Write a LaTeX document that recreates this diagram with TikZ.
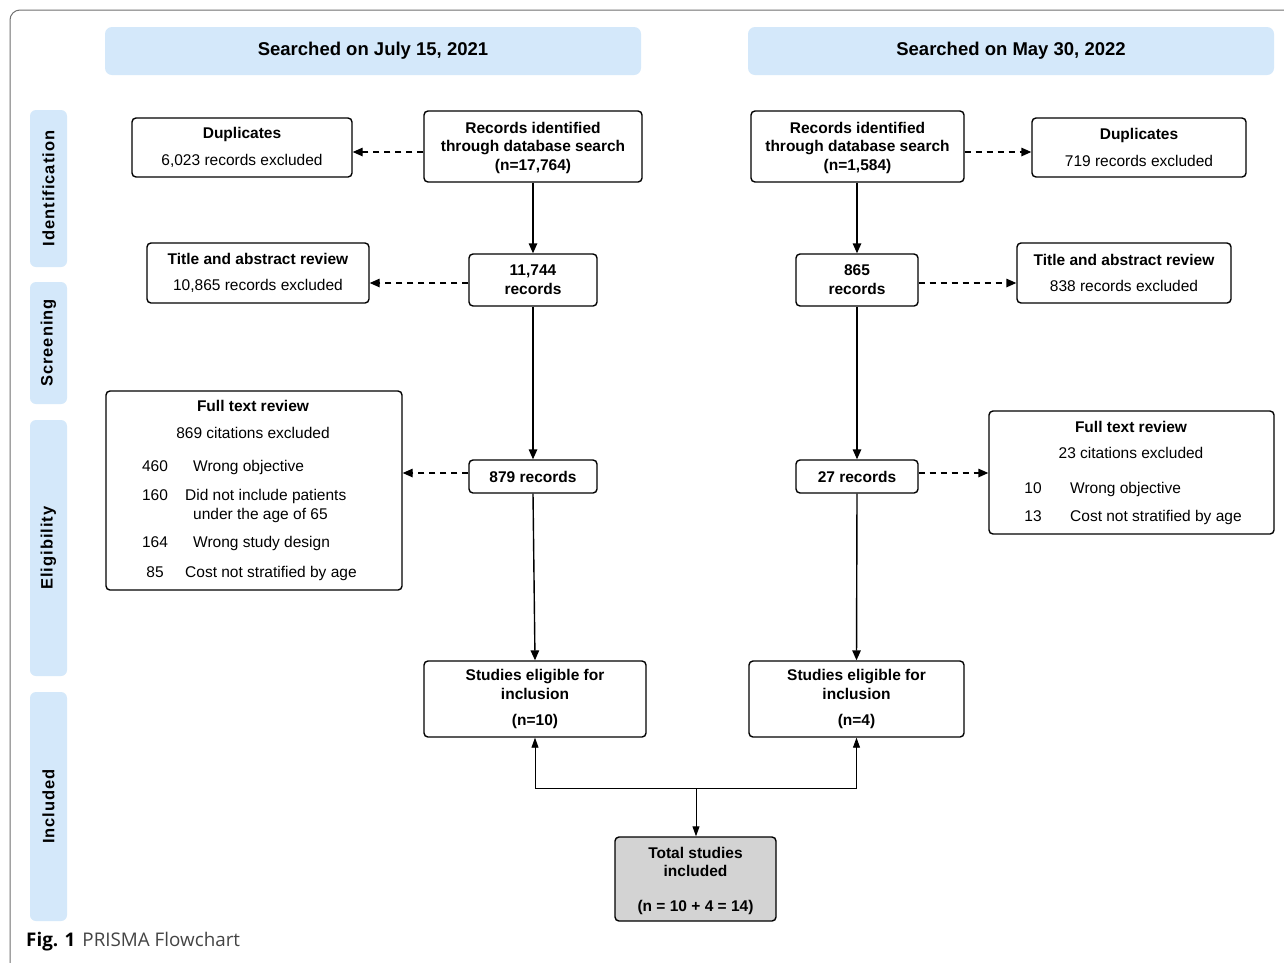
\documentclass[tikz,border=0pt]{standalone}
\usepackage{fontspec}
\setmainfont{Liberation Sans}
\newfontfamily\capfont{Open Sans}
\newfontfamily\sidefont[LetterSpace=6]{Liberation Sans}
\usetikzlibrary{arrows.meta,calc}
\definecolor{hdr}{HTML}{D4E8FA}
\definecolor{totfill}{HTML}{D3D3D3}
\definecolor{framecol}{HTML}{707070}
\definecolor{capgray}{HTML}{444444}
\begin{document}
\begin{tikzpicture}[x=1pt,y=-1pt,
 box/.style={draw, line width=1.4pt, rounded corners=4pt, fill=white, align=center, inner sep=0pt, font=\bfseries\fontsize{15.5}{18.8}\selectfont},
 txt/.style={inner sep=0pt, yshift=-4pt, font=\fontsize{15.5}{18.5}\selectfont},
 hdrbox/.style={fill=hdr, rounded corners=7pt, inner sep=0pt, font=\bfseries\fontsize{18.5}{22}\selectfont},
 sidebox/.style={fill=hdr, rounded corners=6pt, rotate=90, inner sep=0pt, minimum height=37pt, font=\sidefont\bfseries\fontsize{16.5}{19}\selectfont},
 arr/.style={-{Triangle[length=10pt,width=8.5pt]}, line width=1.4pt},
 dsh/.style={arr, dash pattern=on 6pt off 5pt},
 tarr/.style={-{Triangle[length=10pt,width=7pt]}, line width=0.9pt},
]
\useasboundingbox (0,0) rectangle (1284,962);
\fill[white] (0,0) rectangle (1284,962);
% outer frame
\draw[framecol, line width=1pt, rounded corners=10pt] (10,1000) -- (10,10) -- (1320,10);

% headers
\node[hdrbox, minimum width=536pt, minimum height=48pt] (hL) at (373,51) {Searched on July 15, 2021};
\node[hdrbox, minimum width=526pt, minimum height=48pt] (hR) at (1011,51) {Searched on May 30, 2022};

% side labels
\node[sidebox, minimum width=157pt] (sI) at (48.5,188.5) {Identification};
\node[sidebox, minimum width=122pt] (sS) at (48.5,343) {Screening};
\node[sidebox, minimum width=256pt] (sE) at (48.5,548) {Eligibility};
\node[sidebox, minimum width=229pt] (sN) at (48.5,806.5) {Included};

% left column
\node[box, minimum width=218pt, minimum height=71pt] (recL) at (533,146.5) {\rule{0pt}{14pt}Records identified\\through database search\\(n=17,764)};
\node[box, minimum width=220pt, minimum height=59pt] (dupL) at (242,147.5) {Duplicates\\[8.5pt]{\mdseries 6,023 records excluded}};
\node[box, minimum width=128pt, minimum height=52pt] (n11744) at (533,280) {11,744\\records};
\node[box, minimum width=222pt, minimum height=60pt] (taL) at (258,273) {Title and abstract review\\[7.5pt]{\mdseries 10,865 records excluded}};
\node[box, minimum width=296pt, minimum height=199pt] (ftrL) at (254,490.5) {};
\node[box, minimum width=128pt, minimum height=33pt] (n879) at (533,476.5) {879 records};
\node[box, minimum width=222pt, minimum height=76pt] (stL) at (535,699) {Studies eligible for\\inclusion\\[7pt](n=10)};

% left full text review content
\node[txt, font=\bfseries\fontsize{15.5}{18.5}\selectfont, anchor=mid] (ftrLt) at (253,405) {Full text review};
\node[txt, anchor=mid] (ftrLs) at (253,432) {869 citations excluded};
\node[txt, anchor=mid] (l1n) at (155,465) {460};
\node[txt, anchor=mid west] (l1t) at (193,465) {Wrong objective};
\node[txt, anchor=mid] (l2n) at (155,494) {160};
\node[txt, anchor=mid west] (l2t) at (185,494) {Did not include patients};
\node[txt, anchor=mid west] (l2u) at (193,513) {under the age of 65};
\node[txt, anchor=mid] (l3n) at (155,541) {164};
\node[txt, anchor=mid west] (l3t) at (193,541) {Wrong study design};
\node[txt, anchor=mid] (l4n) at (155,571) {85};
\node[txt, anchor=mid west] (l4t) at (185,571) {Cost not stratified by age};

% right column
\node[box, minimum width=213pt, minimum height=71pt] (recR) at (857.5,146.5) {\rule{0pt}{14pt}Records identified\\through database search\\(n=1,584)};
\node[box, minimum width=214pt, minimum height=59pt] (dupR) at (1139,147.5) {Duplicates\\[8.5pt]{\mdseries 719 records excluded}};
\node[box, minimum width=122pt, minimum height=52pt] (n865) at (857,280) {865\\records};
\node[box, minimum width=214pt, minimum height=60pt] (taR) at (1124,273) {Title and abstract review\\[7.5pt]{\mdseries 838 records excluded}};
\node[box, minimum width=285pt, minimum height=123pt] (ftrR) at (1131.5,472.5) {};
\node[box, minimum width=122pt, minimum height=33pt] (n27) at (857,476.5) {27 records};
\node[box, minimum width=215pt, minimum height=76pt] (stR) at (856.5,699) {Studies eligible for\\inclusion\\[7pt](n=4)};

% right full text review content
\node[txt, font=\bfseries\fontsize{15.5}{18.5}\selectfont, anchor=mid] (ftrRt) at (1131,426) {Full text review};
\node[txt, anchor=mid] (ftrRs) at (1131,452) {23 citations excluded};
\node[txt, anchor=mid] (r1n) at (1033,487) {10};
\node[txt, anchor=mid west] (r1t) at (1070,487) {Wrong objective};
\node[txt, anchor=mid] (r2n) at (1033,515) {13};
\node[txt, anchor=mid west] (r2t) at (1070,515) {Cost not stratified by age};

% total
\node[box, fill=totfill, minimum width=161pt, minimum height=84pt] (total) at (695.5,879) {\rule{0pt}{15pt}Total studies\\included\\[16pt](n = 10 + 4 = 14)};

% connectors left
\draw[arr] (recL) -- (n11744);
\draw[dsh] ([yshift=-5.5pt]recL.west) -- ([yshift=-4.5pt]dupL.east);
\draw[dsh] ([yshift=-3pt]n11744.west) -- ([yshift=-10pt]taL.east);
\draw[arr] (n11744) -- (n879);
\coordinate (c879) at ([yshift=3.5pt]n879.west);
\draw[dsh] (c879) -- (c879 -| ftrL.east);
\draw[arr] (n879.south) -- (stL.north);

% connectors right
\draw[arr] (recR.south -| n865) -- (n865);
\draw[dsh] ([yshift=-5.5pt]recR.east) -- ([yshift=-4.5pt]dupR.west);
\draw[dsh] ([yshift=-3pt]n865.east) -- ([yshift=-10pt]taR.west);
\draw[arr] (n865) -- (n27);
\coordinate (c27) at ([yshift=3.5pt]n27.east);
\draw[dsh] (c27) -- (c27 -| ftrR.west);
\draw[arr] (n27.south) -- (stR.north);

% bottom merge
\coordinate (j) at (696,788);
\draw[tarr] (j) -- (total.north -| j);
\draw[tarr] (j) -| (stL.south);
\draw[tarr] (j) -| (stR.south);

% caption
\node[anchor=mid west, inner sep=0pt] (cap) at (26,944) {\capfont\fontsize{18.8}{22}\selectfont\textbf{Fig. 1}\hspace{7pt}{\color{capgray}PRISMA Flowchart}};
\end{tikzpicture}
\end{document}
